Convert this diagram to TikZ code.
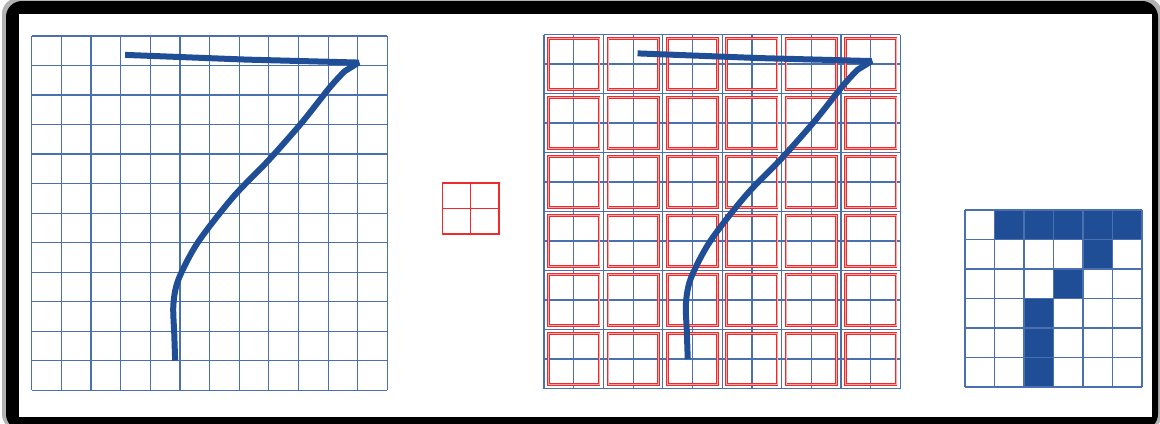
\documentclass[tikz,border=0pt]{standalone}
\usepackage{tikz}
\definecolor{gridBlue}{HTML}{4A70B0}
\definecolor{inkBlue}{HTML}{1F4E96}
\definecolor{poolRed}{HTML}{EE2A2A}

\newcommand{\cellgrid}[1]{%
  \foreach \i in {0,...,#1} {
    \draw[gridBlue, line width=0.6pt] (\i,0) -- (\i,#1);
    \draw[gridBlue, line width=0.6pt] (0,\i) -- (#1,\i);
  }}
\newcommand{\sevenstroke}{%
  \draw[inkBlue, line width=3pt, line join=bevel] (3.15,0.64) -- (7.26,0.8) -- (11.03,0.9) -- plot[smooth, tension=0.5] coordinates {(10.55,1.2) (10.05,1.75) (9.1,2.95) (8.0,4.2) (6.8,5.45) (5.6,7.0) (4.95,8.25) (4.78,9.1) (4.81,10.1) (4.84,11.0)};}

\begin{document}
\begin{tikzpicture}[x=0.5pt,y=-0.5pt]
  \useasboundingbox (0,0) rectangle (1160,423);
  \fill[white] (0,0) rectangle (1160,423);
  \fill[black!30, rounded corners=8] (2,-2) rectangle (1162,430);
  \fill[black, rounded corners=8] (6,1) rectangle (1158,430);
  \fill[white] (19,14) rectangle (1152,417);

  % input image
  \begin{scope}[shift={(31.7,36)}, x=14.82pt, y=-14.76pt]
    \cellgrid{12}
    \sevenstroke
  \end{scope}

  % pooling window
  \draw[poolRed, line width=0.8pt] (442.3,182.7) rectangle (499,234);
  \draw[poolRed, line width=0.8pt] (470.6,182.7) -- (470.6,234);
  \draw[poolRed, line width=0.8pt] (442.3,208.3) -- (499,208.3);

  % windows over the image
  \begin{scope}[shift={(544,34.5)}, x=14.85pt, y=-14.75pt]
    \cellgrid{12}
    \foreach \c in {0,2,...,10}
      \foreach \r in {0,2,...,10}
        \draw[poolRed, line width=0.5pt, double=poolRed!40, double distance=0.3pt] (\c+0.15,\r+0.13) rectangle (\c+1.85,\r+1.87);
    \sevenstroke
  \end{scope}

  % pooled result
  \begin{scope}[shift={(965,210)}, x=14.75pt, y=-14.75pt]
    \fill[inkBlue] (1,0) rectangle (6,1);
    \fill[inkBlue] (4,1) rectangle (5,2);
    \fill[inkBlue] (3,2) rectangle (4,3);
    \fill[inkBlue] (2,3) rectangle (3,6);
    \cellgrid{6}
  \end{scope}
\end{tikzpicture}
\end{document}
